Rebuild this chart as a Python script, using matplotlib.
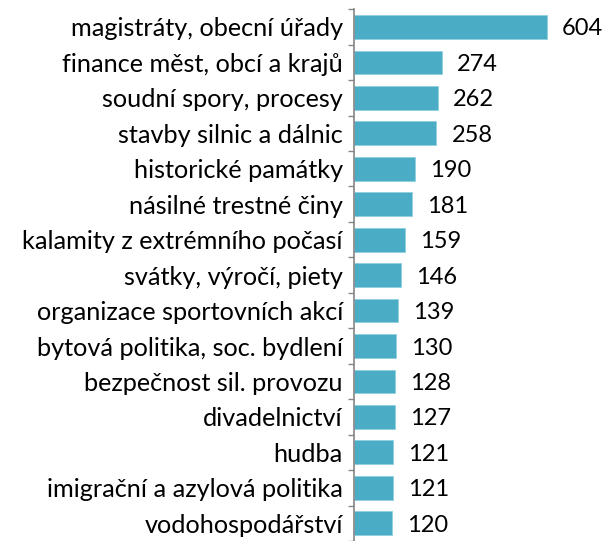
import matplotlib
matplotlib.use("Agg")
import matplotlib.pyplot as plt
import numpy as np

categories = ["magistráty, obecní úřady", "finance měst, obcí a krajů", "soudní spory, procesy",
              "stavby silnic a dálnic", "historické památky", "násilné trestné činy",
              "kalamity z extrémního počasí", "svátky, výročí, piety", "organizace sportovních akcí",
              "bytová politika, soc. bydlení", "bezpečnost sil. provozu", "divadelnictví",
              "hudba", "imigrační a azylová politika", "vodohospodářství"]
values = [604, 274, 262, 258, 190, 181, 159, 146, 139, 130, 128, 127, 121, 121, 120]

plt.rcParams['font.family'] = ['Lato', 'DejaVu Sans']

fig = plt.figure(figsize=(6.05, 5.41), dpi=100)
ax = fig.add_axes([354 / 605, 0.0, 223.7 / 605, 0.983])

y = np.arange(len(categories))
ax.barh(y, values, height=0.67, color='#4BACC6', edgecolor='#8fd0e0', linewidth=0.6)
ax.set_ylim(len(categories) - 0.5, -0.5)
ax.set_xlim(0, 700)

ax.set_yticks(y)
ax.set_yticklabels(categories, fontsize=18.2)
ax.set_yticks(np.arange(len(categories) + 1) - 0.5, minor=True)
ax.tick_params(axis='y', which='major', length=0, pad=8)
ax.tick_params(axis='y', which='minor', length=4, color='#868686', width=1)
ax.set_xticks([])

for s in ['top', 'right', 'bottom']:
    ax.spines[s].set_visible(False)
ax.spines['left'].set_color('#868686')
ax.spines['left'].set_linewidth(1.2)

for yi, v in zip(y, values):
    ax.annotate(str(v), (v, yi), xytext=(15, -2), textcoords='offset pixels',
                va='center', ha='left', fontsize=17, clip_on=False)

fig.savefig("out.png", dpi=100)
